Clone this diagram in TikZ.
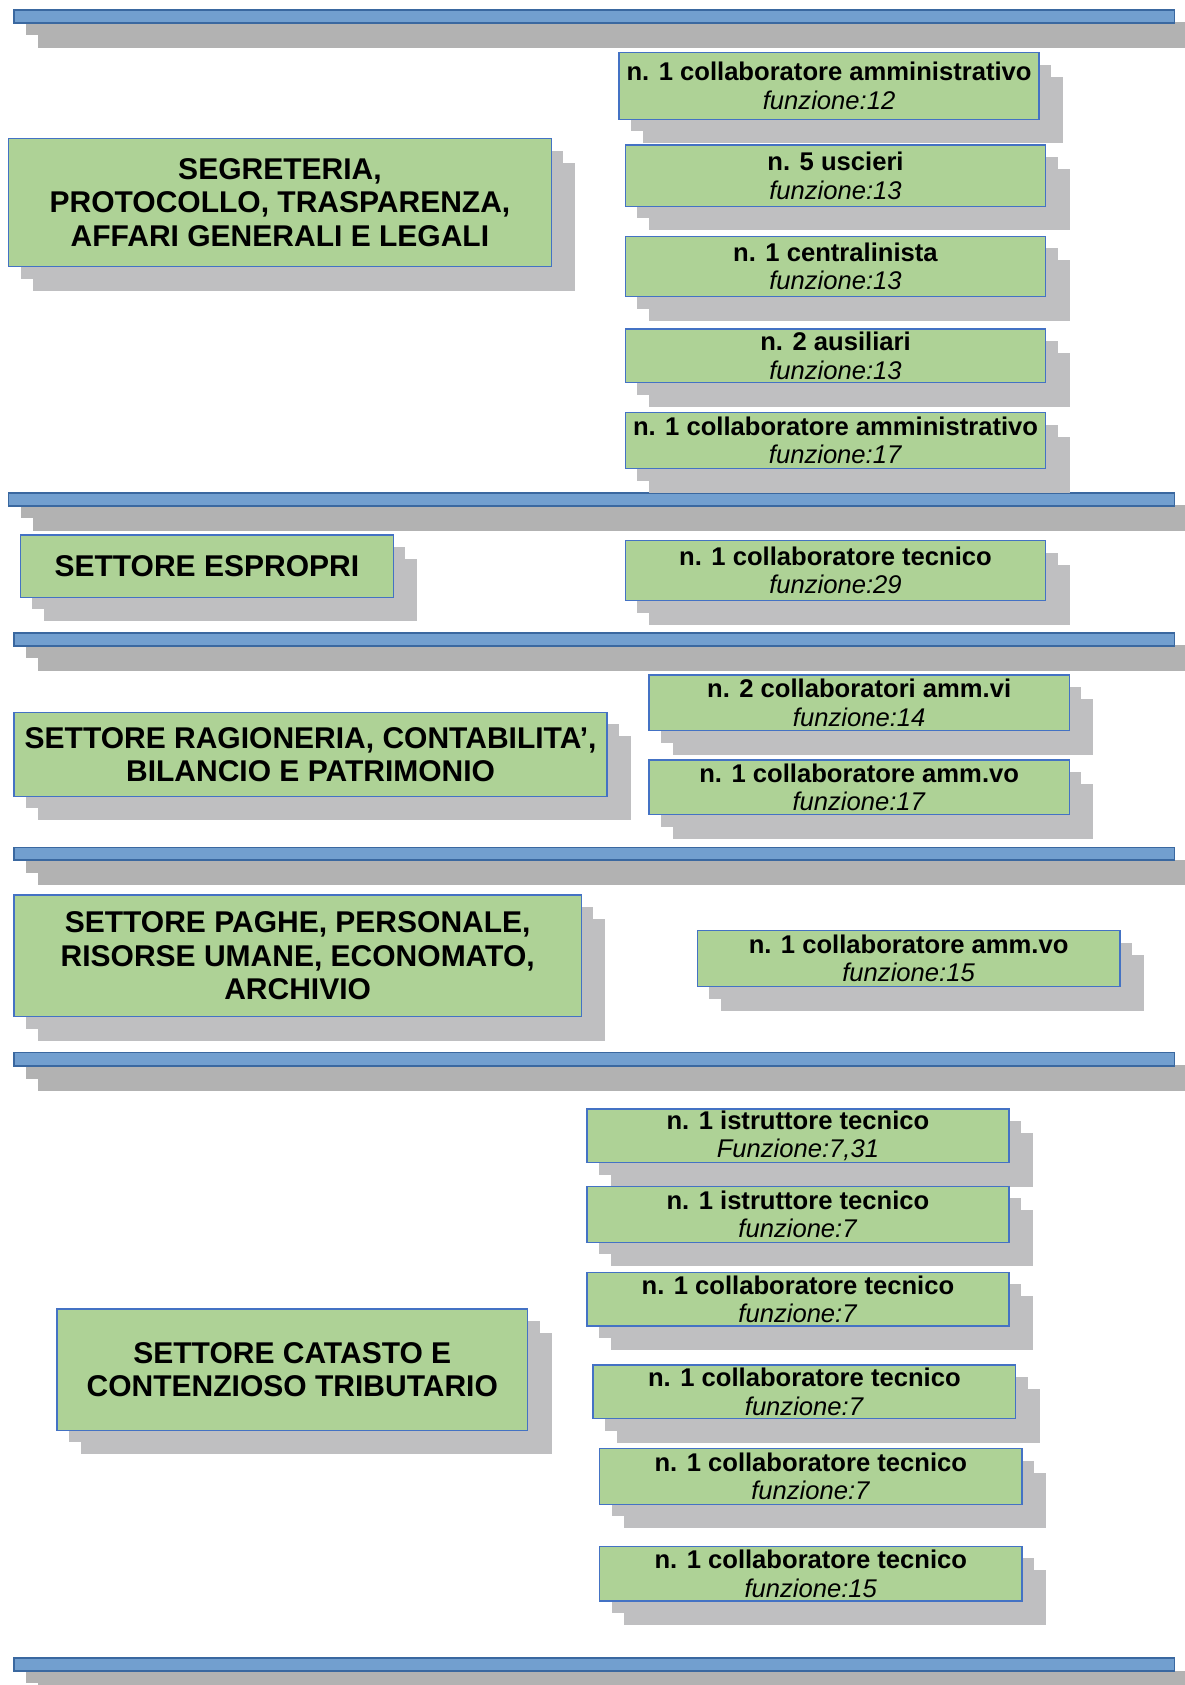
\documentclass[tikz,border=0pt]{standalone}
\usepackage{fontspec}
\setmainfont{Liberation Sans}
\usetikzlibrary{shadows}
\definecolor{gfill}{RGB}{174,210,150}
\definecolor{bborder}{RGB}{68,114,196}
\definecolor{barfill}{RGB}{114,159,207}
\definecolor{barborder}{RGB}{58,104,160}
\definecolor{sgray}{RGB}{191,191,193}
\definecolor{bgray}{RGB}{178,178,178}
\tikzset{
  gbox/.style={draw=bborder, fill=gfill, line width=0.75pt, inner sep=0pt, outer sep=0pt, align=center,
    double copy shadow={shadow xshift=6pt, shadow yshift=-6pt, fill=sgray, draw=none}},
  hbar/.style={draw=barborder, fill=barfill, line width=0.9pt, inner sep=0pt, outer sep=0pt,
    double copy shadow={shadow xshift=6pt, shadow yshift=-6.2pt, fill=bgray, draw=none}},
  big/.style={font=\fontsize{15}{16.65}\selectfont\bfseries},
  small/.style={font=\fontsize{12.8}{14.2}\selectfont},
}
\newcommand{\sm}[2]{\textbf{#1}\\\textit{#2}}
% \bx{style}{name}{x1}{y1}{x2}{y2}{text}
\newcommand{\bx}[7]{\node[#1, minimum width={(#5-#3)*0.5372pt}, minimum height={(#6-#4)*0.5372pt}]
  (#2) at ({(#3+#5)/2},{(#4+#6)/2}) {#7};}
\begin{document}
\begin{tikzpicture}[x=0.5372pt, y=-0.5372pt]
\useasboundingbox (0,0) rectangle (1102,1568);
% horizontal bars
\bx{hbar}{bar1}{13}{9.3}{1093}{21.5}{}
\bx{hbar}{bar2}{8}{458.6}{1093}{470.7}{}
\bx{hbar}{bar3}{13}{588.9}{1093}{601}{}
\bx{hbar}{bar4}{13}{788.6}{1093}{800.5}{}
\bx{hbar}{bar5}{13}{979.4}{1093}{992.2}{}
\bx{hbar}{bar6}{13}{1543}{1093}{1555}{}
% left sector boxes
\bx{gbox,big}{segr}{8}{129}{513}{248}{SEGRETERIA,\\PROTOCOLLO, TRASPARENZA,\\AFFARI GENERALI E LEGALI}
\bx{gbox,big}{espr}{19}{498}{366}{556}{SETTORE ESPROPRI}
\bx{gbox,big}{ragi}{13}{663}{565}{741}{SETTORE RAGIONERIA, CONTABILITA’,\\BILANCIO E PATRIMONIO}
\bx{gbox,big}{pagh}{13}{833}{541}{946}{SETTORE PAGHE, PERSONALE,\\RISORSE UMANE, ECONOMATO,\\ARCHIVIO}
\bx{gbox,big}{cata}{53}{1218}{491}{1331}{SETTORE CATASTO E\\CONTENZIOSO TRIBUTARIO}
% right staff boxes
\bx{gbox,small}{s1}{576}{49}{967}{111}{\sm{n. 1 collaboratore amministrativo}{funzione:12}}
\bx{gbox,small}{s2}{582}{135}{973}{192}{\sm{n. 5 uscieri}{funzione:13}}
\bx{gbox,small}{s3}{582}{220}{973}{276}{\sm{n. 1 centralinista}{funzione:13}}
\bx{gbox,small}{s4}{582}{306}{973}{356}{\sm{n. 2 ausiliari}{funzione:13}}
\bx{gbox,small}{s5}{582}{384}{973}{436}{\sm{n. 1 collaboratore amministrativo}{funzione:17}}
\bx{gbox,small}{e1}{582}{503}{973}{559}{\sm{n. 1 collaboratore tecnico}{funzione:29}}
\bx{gbox,small}{r1}{604}{628}{995}{680}{\sm{n. 2 collaboratori amm.vi}{funzione:14}}
\bx{gbox,small}{r2}{604}{707}{995}{758}{\sm{n. 1 collaboratore amm.vo}{funzione:17}}
\bx{gbox,small}{p1}{649}{866}{1042}{918}{\sm{n. 1 collaboratore amm.vo}{funzione:15}}
\bx{gbox,small}{c1}{546}{1032}{939}{1082}{\sm{n. 1 istruttore tecnico}{Funzione:7,31}}
\bx{gbox,small}{c2}{546}{1104}{939}{1156}{\sm{n. 1 istruttore tecnico}{funzione:7}}
\bx{gbox,small}{c3}{546}{1184}{939}{1234}{\sm{n. 1 collaboratore tecnico}{funzione:7}}
\bx{gbox,small}{c4}{552}{1270}{945}{1320}{\sm{n. 1 collaboratore tecnico}{funzione:7}}
\bx{gbox,small}{c5}{558}{1348}{951}{1400}{\sm{n. 1 collaboratore tecnico}{funzione:7}}
\bx{gbox,small}{c6}{558}{1439}{951}{1490}{\sm{n. 1 collaboratore tecnico}{funzione:15}}
\end{tikzpicture}
\end{document}
